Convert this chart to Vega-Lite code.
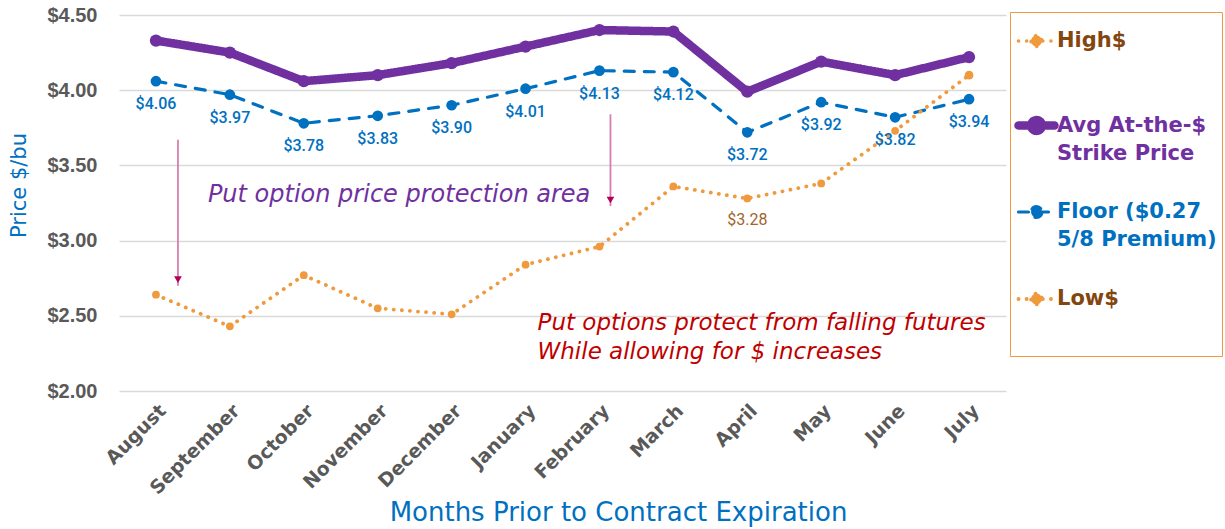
{
  "$schema": "https://vega.github.io/schema/vega-lite/v6.json",
  "width": 887,
  "height": 376,
  "autosize": {"type": "none"},
  "padding": {"left": 119, "top": 15, "right": 219, "bottom": 138},
  "background": "#FFFFFF",
  "config": {"view": {"stroke": null}, "font": "DejaVu Sans"},
  "datasets": {
    "prices": [
      {"month": "August", "series": "Avg At-the-$ Strike Price", "price": 4.33},
      {"month": "September", "series": "Avg At-the-$ Strike Price", "price": 4.25},
      {"month": "October", "series": "Avg At-the-$ Strike Price", "price": 4.06},
      {"month": "November", "series": "Avg At-the-$ Strike Price", "price": 4.10},
      {"month": "December", "series": "Avg At-the-$ Strike Price", "price": 4.18},
      {"month": "January", "series": "Avg At-the-$ Strike Price", "price": 4.29},
      {"month": "February", "series": "Avg At-the-$ Strike Price", "price": 4.40},
      {"month": "March", "series": "Avg At-the-$ Strike Price", "price": 4.39},
      {"month": "April", "series": "Avg At-the-$ Strike Price", "price": 3.99},
      {"month": "May", "series": "Avg At-the-$ Strike Price", "price": 4.19},
      {"month": "June", "series": "Avg At-the-$ Strike Price", "price": 4.10},
      {"month": "July", "series": "Avg At-the-$ Strike Price", "price": 4.22},
      {"month": "August", "series": "Floor ($0.27 5/8 Premium)", "price": 4.06},
      {"month": "September", "series": "Floor ($0.27 5/8 Premium)", "price": 3.97},
      {"month": "October", "series": "Floor ($0.27 5/8 Premium)", "price": 3.78},
      {"month": "November", "series": "Floor ($0.27 5/8 Premium)", "price": 3.83},
      {"month": "December", "series": "Floor ($0.27 5/8 Premium)", "price": 3.90},
      {"month": "January", "series": "Floor ($0.27 5/8 Premium)", "price": 4.01},
      {"month": "February", "series": "Floor ($0.27 5/8 Premium)", "price": 4.13},
      {"month": "March", "series": "Floor ($0.27 5/8 Premium)", "price": 4.12},
      {"month": "April", "series": "Floor ($0.27 5/8 Premium)", "price": 3.72},
      {"month": "May", "series": "Floor ($0.27 5/8 Premium)", "price": 3.92},
      {"month": "June", "series": "Floor ($0.27 5/8 Premium)", "price": 3.82},
      {"month": "July", "series": "Floor ($0.27 5/8 Premium)", "price": 3.94},
      {"month": "August", "series": "Low$", "price": 2.64},
      {"month": "September", "series": "Low$", "price": 2.43},
      {"month": "October", "series": "Low$", "price": 2.77},
      {"month": "November", "series": "Low$", "price": 2.55},
      {"month": "December", "series": "Low$", "price": 2.51},
      {"month": "January", "series": "Low$", "price": 2.84},
      {"month": "February", "series": "Low$", "price": 2.96},
      {"month": "March", "series": "Low$", "price": 3.36},
      {"month": "April", "series": "Low$", "price": 3.28},
      {"month": "May", "series": "Low$", "price": 3.38},
      {"month": "June", "series": "Low$", "price": 3.73},
      {"month": "July", "series": "Low$", "price": 4.10},
      {"month": "July", "series": "High$", "price": 4.10}
    ],
    "arrow1": [{"month": "August", "price": 3.67, "price2": 2.70, "head": 2.74}],
    "arrow2": [{"month": "February", "price": 3.84, "price2": 3.23, "head": 3.27}],
    "purpleNote": [{"month": "September", "price": 3.30, "text": "Put option price protection area"}],
    "redNote": [
      {"month": "January", "price": 2.45, "text": "Put options protect from falling futures"},
      {"month": "January", "price": 2.26, "text": "While allowing for $ increases"}
    ]
  },
  "encoding": {
    "x": {
      "field": "month", "type": "ordinal",
      "scale": {"type": "point", "padding": 0.5, "domain": ["August", "September", "October", "November", "December", "January", "February", "March", "April", "May", "June", "July"]},
      "axis": {
        "title": "Months Prior to Contract Expiration",
        "titleFont": "DejaVu Sans", "titleFontSize": 26, "titleFontWeight": "normal", "titleColor": "#0070C0",
        "titleX": 499, "titleY": 121, "titleAlign": "center", "titleBaseline": "middle", "titleAnchor": null,
        "labelAngle": -45, "labelFont": "DejaVu Sans", "labelFontSize": 19, "labelFontWeight": "bold", "labelColor": "#595959",
        "labelPadding": 10, "domain": false, "ticks": false, "tickSize": 0, "grid": false
      }
    },
    "y": {
      "field": "price", "type": "quantitative",
      "scale": {"domain": [2, 4.5], "nice": false, "zero": false},
      "axis": {
        "title": "Price $/bu", "titleFont": "DejaVu Sans", "titleFontSize": 21, "titleFontWeight": "normal", "titleColor": "#0070C0",
        "titleX": -100, "titleY": 170, "titleAngle": -90, "titleAlign": "center", "titleBaseline": "middle",
        "values": [2, 2.5, 3, 3.5, 4, 4.5], "format": "$.2f",
        "labelFont": "Liberation Sans", "labelFontSize": 20, "labelFontWeight": "bold", "labelColor": "#595959",
        "labelPadding": 22, "domain": false, "ticks": false, "tickSize": 0,
        "grid": true, "gridColor": "#D9D9D9", "gridWidth": 1.3
      }
    }
  },
  "layer": [
    {
      "data": {"name": "prices"},
      "mark": {"type": "line", "strokeCap": "round", "strokeJoin": "round"},
      "encoding": {
        "color": {
          "field": "series", "type": "nominal",
          "scale": {"domain": ["High$", "Avg At-the-$ Strike Price", "Floor ($0.27 5/8 Premium)", "Low$"], "range": ["#F09A3E", "#7030A0", "#0070C0", "#F09A3E"]},
          "legend": {
            "orient": "none", "legendX": 891, "legendY": -3,
            "title": " ", "titleFontSize": 2, "titlePadding": 11,
            "padding": 5, "strokeColor": "#F09A3E", "fillColor": "#FFFFFF",
            "symbolType": "M -2 0 L 2 0 M 0.6 0 A 0.6 0.6 0 1 1 -0.6 0 A 0.6 0.6 0 1 1 0.6 0 Z",
            "symbolSize": 324,
            "symbolOffset": 8,
            "labelFont": "DejaVu Sans", "labelFontSize": 21, "labelFontWeight": "bold", "labelLimit": 0, "labelOffset": 7,
            "rowPadding": 8,
            "encode": {
              "symbols": {"update": {
                "size": {"value": 324},
                "stroke": {"scale": "color", "field": "value"},
                "fill": {"scale": "color", "field": "value"},
                "strokeWidth": {"signal": "datum.value == 'Avg At-the-$ Strike Price' ? 8 : 3"},
                "strokeDash": {"signal": "datum.value == 'Floor ($0.27 5/8 Premium)' ? [9, 4] : datum.value == 'Avg At-the-$ Strike Price' ? [] : [0.1, 6]"},
                "strokeCap": {"value": "round"},
                "opacity": {"value": 1}
              }},
              "labels": {"update": {
                "text": {"signal": "datum.value == 'High$' ? ['High$', '', ''] : datum.value == 'Low$' ? ['Low$', ''] : datum.value == 'Floor ($0.27 5/8 Premium)' ? ['Floor ($0.27', '5/8 Premium)', ''] : ['Avg At-the-$', 'Strike Price', '']"},
                "fill": {"signal": "datum.value == 'Avg At-the-$ Strike Price' ? '#7030A0' : datum.value == 'Floor ($0.27 5/8 Premium)' ? '#0070C0' : '#84460F'"},
                "lineHeight": {"signal": "datum.value == 'High$' ? 22 : datum.value == 'Low$' ? 42 : 28"},
                "opacity": {"value": 1}
              }}
            }
          }
        },
        "strokeWidth": {
          "field": "series", "type": "nominal",
          "scale": {"type": "ordinal", "domain": ["High$", "Avg At-the-$ Strike Price", "Floor ($0.27 5/8 Premium)", "Low$"], "range": [3.5, 8.5, 3.2, 3.8]},
          "legend": null
        },
        "strokeDash": {
          "field": "series", "type": "nominal",
          "scale": {"domain": ["High$", "Avg At-the-$ Strike Price", "Floor ($0.27 5/8 Premium)", "Low$"], "range": [[0.1, 8], [1, 0], [10, 10], [0.1, 8]]},
          "legend": null
        }
      }
    },
    {
      "data": {"name": "prices"},
      "transform": [{"filter": "datum.series == 'Avg At-the-$ Strike Price'"}],
      "mark": {"type": "point", "filled": true, "opacity": 1, "size": 150, "color": "#7030A0"}
    },
    {
      "data": {"name": "prices"},
      "transform": [{"filter": "datum.series == 'Floor ($0.27 5/8 Premium)'"}],
      "mark": {"type": "point", "filled": true, "opacity": 1, "size": 115, "color": "#0070C0"}
    },
    {
      "data": {"name": "prices"},
      "transform": [{"filter": "datum.series == 'Low$'"}],
      "mark": {"type": "point", "filled": true, "opacity": 1, "size": 60, "color": "#F09A3E"}
    },
    {
      "data": {"name": "prices"},
      "transform": [{"filter": "datum.series == 'High$'"}],
      "mark": {"type": "point", "filled": true, "opacity": 1, "size": 75, "color": "#F09A3E"}
    },
    {
      "data": {"name": "prices"},
      "transform": [{"filter": "datum.series == 'Floor ($0.27 5/8 Premium)'"}],
      "mark": {"type": "text", "dy": 23, "font": "Roboto", "fontSize": 16, "fontWeight": 500, "color": "#0070C0"},
      "encoding": {"text": {"field": "price", "type": "quantitative", "format": "$.2f"}}
    },
    {
      "data": {"name": "prices"},
      "transform": [{"filter": "datum.series == 'Low$' && datum.month == 'April'"}],
      "mark": {"type": "text", "dy": 22, "font": "Roboto", "fontSize": 16, "fontWeight": "normal", "color": "#A0642C"},
      "encoding": {"text": {"field": "price", "type": "quantitative", "format": "$.2f"}}
    },
    {
      "data": {"name": "arrow1"},
      "mark": {"type": "rule", "xOffset": 22, "color": "#D47FAF", "strokeWidth": 1.8},
      "encoding": {"y2": {"field": "price2"}}
    },
    {
      "data": {"name": "arrow1"},
      "mark": {"type": "point", "shape": "triangle-down", "filled": true, "opacity": 1, "size": 60, "xOffset": 22, "color": "#B5005B"},
      "encoding": {"y": {"field": "head", "type": "quantitative"}}
    },
    {
      "data": {"name": "arrow2"},
      "mark": {"type": "rule", "xOffset": 11, "color": "#D47FAF", "strokeWidth": 1.8},
      "encoding": {"y2": {"field": "price2"}}
    },
    {
      "data": {"name": "arrow2"},
      "mark": {"type": "point", "shape": "triangle-down", "filled": true, "opacity": 1, "size": 60, "xOffset": 11, "color": "#B5005B"},
      "encoding": {"y": {"field": "head", "type": "quantitative"}}
    },
    {
      "data": {"name": "purpleNote"},
      "mark": {"type": "text", "align": "left", "baseline": "middle", "dx": -22, "font": "DejaVu Sans", "fontSize": 24, "fontStyle": "italic", "color": "#7030A0"},
      "encoding": {"text": {"field": "text"}}
    },
    {
      "data": {"name": "redNote"},
      "mark": {"type": "text", "align": "left", "baseline": "middle", "dx": 12, "font": "DejaVu Sans", "fontSize": 23, "fontStyle": "italic", "color": "#C00000"},
      "encoding": {"text": {"field": "text"}}
    }
  ]
}
